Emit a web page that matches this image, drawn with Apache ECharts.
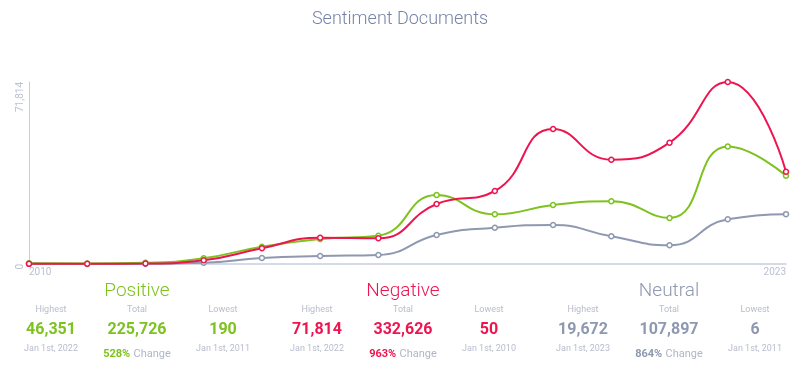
<!DOCTYPE html>
<html>
<head>
<meta charset="utf-8">
<script src="https://cdn.jsdelivr.net/npm/echarts@6/dist/echarts.min.js"></script>
<style>
html,body{margin:0;padding:0;background:#fff;}
#chart{width:800px;height:377px;}
</style>
</head>
<body>
<div id="chart"></div>
<script>
var years = ['2010','2011','2012','2013','2014','2015','2016','2017','2018','2019','2020','2021','2022','2023'];
var positive = [300, 190, 450, 2250, 6830, 9865, 11170, 27227, 19612, 23281, 24741, 18152, 46351, 34843];
var negative = [50, 100, 200, 1500, 6190, 10380, 10140, 23676, 28806, 53271, 41157, 47865, 71814, 36422];
var neutral = [100, 6, 100, 500, 2370, 3160, 3550, 11443, 14324, 15389, 10930, 7379, 17639, 19672];
var yTicks = [0, 71814];

var groupNames = ['Positive', 'Negative', 'Neutral'];
var groupColors = ['#7dc21e', '#ee1450', '#8e98b0'];
var highestVals = ['46,351', '71,814', '19,672'];
var highestDates = ['Jan 1st, 2022', 'Jan 1st, 2022', 'Jan 1st, 2023'];
var totalVals = ['225,726', '332,626', '107,897'];
var changeVals = ['528%', '963%', '864%'];
var lowestVals = ['190', '50', '6'];
var lowestDates = ['Jan 1st, 2011', 'Jan 1st, 2010', 'Jan 1st, 2011'];

var FONT = 'Roboto, "Noto Sans", sans-serif';
var chart = echarts.init(document.getElementById('chart'), null, {renderer: 'canvas'});

function seriesOf(name, data, color) {
  return {
    name: name, type: 'line', data: data, smooth: true,
    symbol: 'circle', symbolSize: 5, showSymbol: true,
    lineStyle: {color: color, width: 2},
    itemStyle: {color: '#fff', borderColor: color, borderWidth: 1.5},
    emphasis: {disabled: true}
  };
}

var graphics = [];
var centers = [137, 403, 669];
var colOff = [-86, 0, 86];
for (var g = 0; g < 3; g++) {
  var cx = centers[g], col = groupColors[g];
  graphics.push({type: 'text', x: cx, y: 291, style: {text: groupNames[g], fill: col, font: '300 19px ' + FONT, textAlign: 'center', textVerticalAlign: 'middle'}});
  var labs = ['Highest', 'Total', 'Lowest'];
  var vals = [highestVals[g], totalVals[g], lowestVals[g]];
  for (var c = 0; c < 3; c++) {
    var x = cx + colOff[c];
    graphics.push({type: 'text', x: x, y: 310, style: {text: labs[c], fill: '#b8bdcc', font: '9px ' + FONT, textAlign: 'center', textVerticalAlign: 'middle'}});
    graphics.push({type: 'text', x: x, y: 329.5, style: {text: vals[c], fill: col, font: 'bold 16px ' + FONT, textAlign: 'center', textVerticalAlign: 'middle'}});
  }
  graphics.push({type: 'text', x: cx + colOff[0], y: 349, style: {text: highestDates[g], fill: '#b8bdcc', font: '9px ' + FONT, textAlign: 'center', textVerticalAlign: 'middle'}});
  graphics.push({type: 'text', x: cx + colOff[2], y: 349, style: {text: lowestDates[g], fill: '#b8bdcc', font: '9px ' + FONT, textAlign: 'center', textVerticalAlign: 'middle'}});
  graphics.push({type: 'text', x: cx, y: 354, style: {
    text: '{a|' + changeVals[g] + '} {b|Change}',
    textAlign: 'center', textVerticalAlign: 'middle',
    rich: {
      a: {fill: col, font: 'bold 11px ' + FONT},
      b: {fill: '#b0b6c6', font: '11px ' + FONT}
    }
  }});
}

var option = {
  animation: false,
  backgroundColor: '#fff',
  title: {
    text: 'Sentiment Documents', left: 'center', top: 5,
    textStyle: {color: '#7683a6', fontFamily: FONT, fontWeight: 300, fontSize: 18}
  },
  grid: {left: 29, right: 14, top: 82, bottom: 113, containLabel: false},
  xAxis: {
    type: 'category', data: years, boundaryGap: false,
    axisLine: {show: true, lineStyle: {color: '#c7cee0', width: 1.5}},
    axisTick: {show: false},
    axisLabel: {
      interval: function (i) { return i === 0 || i === years.length - 1; },
      color: '#b9c0d2', fontSize: 10, fontFamily: FONT, margin: 3,
      alignMinLabel: 'left', alignMaxLabel: 'right'
    },
    splitLine: {show: false}
  },
  yAxis: {
    type: 'value', min: yTicks[0], max: yTicks[1], interval: yTicks[1],
    axisLine: {show: true, lineStyle: {color: '#c7cee0', width: 1}},
    axisTick: {show: false},
    splitLine: {show: false},
    axisLabel: {
      rotate: 90, align: 'right', verticalAlign: 'bottom', margin: 4,
      color: '#b9c0d2', fontSize: 10, fontFamily: FONT,
      formatter: function (v) { return v.toLocaleString('en-US'); },
      showMinLabel: true, showMaxLabel: true, hideOverlap: false
    }
  },
  series: [
    seriesOf('Neutral', neutral, groupColors[2]),
    seriesOf('Positive', positive, groupColors[0]),
    seriesOf('Negative', negative, groupColors[1])
  ],
  graphic: graphics
};
chart.setOption(option);
</script>
</body>
</html>
